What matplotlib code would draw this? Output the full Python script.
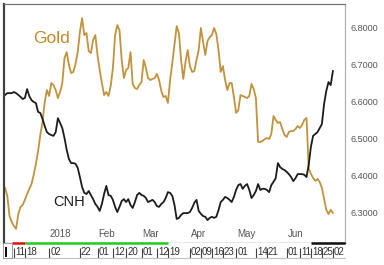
import numpy as np
import pandas as pd
import matplotlib
matplotlib.use("Agg")
import matplotlib.pyplot as plt
from matplotlib import transforms
from matplotlib.patches import Rectangle

plt.rcParams['font.family'] = ['Liberation Sans Narrow', 'Liberation Sans', 'DejaVu Sans']

# trading days shown on the chart
dates = pd.bdate_range('2017-12-05', '2018-07-02')

# USD/CNH (right scale)
cnh = [6.618, 6.623, 6.623, 6.623, 6.626, 6.623, 6.618, 6.613, 6.607, 6.610,
       6.634, 6.615, 6.604, 6.599, 6.596, 6.572, 6.569, 6.553, 6.534, 6.517,
       6.512, 6.509, 6.507, 6.517, 6.555, 6.542, 6.528, 6.501, 6.469, 6.444,
       6.433, 6.433, 6.431, 6.420, 6.395, 6.368, 6.352, 6.349, 6.357, 6.346,
       6.335, 6.322, 6.314, 6.303, 6.322, 6.349, 6.371, 6.346, 6.344, 6.333,
       6.314, 6.300, 6.314, 6.330, 6.335, 6.327, 6.335, 6.319, 6.311, 6.327,
       6.346, 6.352, 6.346, 6.344, 6.338, 6.327, 6.330, 6.333, 6.327, 6.316,
       6.314, 6.322, 6.327, 6.338, 6.354, 6.352, 6.344, 6.319, 6.281, 6.284,
       6.292, 6.297, 6.297, 6.297, 6.300, 6.311, 6.325, 6.333, 6.303, 6.295,
       6.289, 6.287, 6.278, 6.284, 6.287, 6.284, 6.287, 6.305, 6.327, 6.333,
       6.341, 6.338, 6.333, 6.327, 6.341, 6.360, 6.373, 6.376, 6.363, 6.371,
       6.376, 6.360, 6.338, 6.346, 6.357, 6.376, 6.360, 6.363, 6.363, 6.360,
       6.354, 6.373, 6.382, 6.392, 6.433, 6.422, 6.417, 6.414, 6.409, 6.403,
       6.395, 6.384, 6.392, 6.403, 6.403, 6.403, 6.401, 6.395, 6.428, 6.477,
       6.507, 6.512, 6.517, 6.528, 6.539, 6.594, 6.629, 6.653, 6.645, 6.683]

# Gold spot, USD/oz (hidden left scale)
gold = [1264.0, 1259.5, 1248.3, 1245.0, 1242.7, 1241.1, 1249.4, 1253.3, 1254.5, 1257.3,
        1260.6, 1263.4, 1266.2, 1271.2, 1277.4, 1284.6, 1293.6, 1300.8, 1312.0, 1318.7,
        1315.4, 1322.6, 1321.5, 1318.7, 1314.2, 1317.6, 1322.6, 1336.6, 1339.9, 1332.7,
        1328.2, 1328.8, 1333.2, 1339.9, 1351.1, 1358.9, 1349.4, 1350.6, 1340.5, 1339.4,
        1346.7, 1349.4, 1338.3, 1329.9, 1322.6, 1315.9, 1317.6, 1315.4, 1321.0, 1331.0,
        1349.4, 1355.0, 1352.2, 1335.5, 1325.4, 1329.9, 1331.0, 1339.9, 1322.1, 1319.8,
        1319.3, 1321.5, 1323.2, 1335.5, 1331.0, 1325.4, 1324.3, 1324.9, 1325.4, 1327.7,
        1324.3, 1318.2, 1314.8, 1315.4, 1311.5, 1324.3, 1333.8, 1343.9, 1354.5, 1350.6,
        1335.5, 1324.9, 1334.4, 1341.1, 1332.1, 1328.8, 1329.3, 1335.5, 1341.1, 1353.4,
        1345.5, 1338.3, 1346.1, 1348.3, 1349.4, 1353.4, 1350.0, 1341.1, 1328.8, 1332.1,
        1324.3, 1318.7, 1322.6, 1322.6, 1314.8, 1305.9, 1307.5, 1315.9, 1315.4, 1314.8,
        1314.2, 1315.4, 1322.1, 1319.3, 1314.2, 1289.7, 1289.7, 1290.2, 1291.3, 1291.9,
        1291.3, 1294.1, 1304.2, 1302.0, 1300.3, 1300.8, 1296.9, 1293.6, 1292.5, 1295.3,
        1295.8, 1295.8, 1296.9, 1298.6, 1297.5, 1299.2, 1302.0, 1303.1, 1275.1, 1271.8,
        1269.6, 1267.9, 1269.0, 1267.3, 1264.0, 1257.8, 1251.7, 1249.4, 1251.7, 1250.0]

tick_dates = ['2017-12-11', '2017-12-18', '2018-01-02', '2018-01-22', '2018-02-01',
              '2018-02-12', '2018-02-20', '2018-03-01', '2018-03-12', '2018-03-19',
              '2018-04-02', '2018-04-09', '2018-04-16', '2018-04-23', '2018-05-01',
              '2018-05-14', '2018-05-21', '2018-06-01', '2018-06-11', '2018-06-18',
              '2018-06-25', '2018-07-02']
tick_labels = ['11', '18', '02', '22', '01', '12', '20', '01', '12', '19', '02',
               '09', '16', '23', '01', '14', '21', '01', '11', '18', '25', '02']
month_dates = ['2018-01-02', '2018-02-01', '2018-03-01', '2018-04-02',
               '2018-05-01', '2018-06-01']
month_labels = ['2018', 'Feb', 'Mar', 'Apr', 'May', 'Jun']

x = np.arange(len(dates))
pos = lambda d: dates.get_loc(pd.Timestamp(d))
xlim = (-0.5, 154.5)

W, H = 384, 265
fig = plt.figure(figsize=(W / 100, H / 100), dpi=100)
ax = fig.add_axes([4 / W, (H - 243) / H, 341 / W, 239 / H])
ax2 = ax.twinx()

gold_col = '#c4923c'
ax.plot(x, gold, color=gold_col, lw=1.3)
ax2.plot(x, cnh, color='#1c1c1c', lw=1.3)

ax.set_xlim(*xlim)
ax.set_ylim(1233.2, 1366.8)
ax2.set_ylim(6.2158, 6.8652)
ax.set_xticks([])
ax.set_yticks([])
ax2.set_yticks([6.3, 6.4, 6.5, 6.6, 6.7, 6.8])
ax2.set_yticklabels([f'{v:.4f}' for v in ax2.get_yticks()])
ax2.tick_params(axis='y', length=0, pad=4, labelsize=6.5, labelcolor='#555555')

for a in (ax, ax2):
    a.spines['left'].set_color('#404040')
    a.spines['left'].set_linewidth(1.5)
    a.spines['top'].set_color('#707070')
    a.spines['right'].set_color('#b0b0b0')
    a.spines['bottom'].set_color('#303030')
    a.spines['bottom'].set_linewidth(0.8)

ax.text(0.085, 0.837, 'Gold', transform=ax.transAxes, color='#c48a28',
        fontsize=12.5, va='baseline')
ax.text(0.144, 0.155, 'CNH', transform=ax.transAxes, color='#1c1c1c',
        fontsize=10.5, va='baseline')

bt = transforms.blended_transform_factory(ax.transData, ax.transAxes)
for d, lbl in zip(month_dates, month_labels):
    ax.text(pos(d) + 0.3, 0.015, lbl, transform=bt, fontsize=7,
            color='#555555', va='bottom', ha='left')

# date strip under the plot
strip = fig.add_axes([4 / W, (H - 258) / H, 341 / W, 15 / H])
strip.set_xlim(*xlim)
strip.set_ylim(0, 1)
strip.set_yticks([])
tpos = [pos(d) for d in tick_dates]
strip.set_xticks(tpos)
strip.tick_params(axis='x', direction='in', length=7, width=0.8,
                  color='#404040', labelbottom=False)
for s in ('top', 'left', 'right'):
    strip.spines[s].set_visible(False)
strip.spines['bottom'].set_color('#c0c0c0')
sbt = transforms.blended_transform_factory(strip.transData, strip.transAxes)
for p, lbl in zip(tpos, tick_labels):
    strip.text(p + 0.5, 0.42, lbl, transform=sbt, fontsize=7,
               color='#303030', va='center', ha='left')

strip.hlines(1, pos('2017-12-11') - 1, pos('2017-12-18'), transform=sbt,
             color='#e01010', lw=1.8, clip_on=False)
strip.hlines(1, pos('2017-12-18'), pos('2018-03-19'), transform=sbt,
             color='#22cc22', lw=1.8, clip_on=False)
strip.hlines(1, pos('2018-06-18'), xlim[1], transform=sbt, color='#101010',
             lw=1.8, clip_on=False)

# little scroll handle at the left end of the strip
fig.patches.append(Rectangle((3 / W, (H - 258) / H), 9 / W, 15 / H,
                             transform=fig.transFigure, fc='white',
                             ec='#909090', lw=0.6))
fig.patches.append(Rectangle((5 / W, (H - 257) / H), 2 / W, 10 / H,
                             transform=fig.transFigure, fc='#101010', ec='none'))

fig.savefig('out.png', dpi=100)
